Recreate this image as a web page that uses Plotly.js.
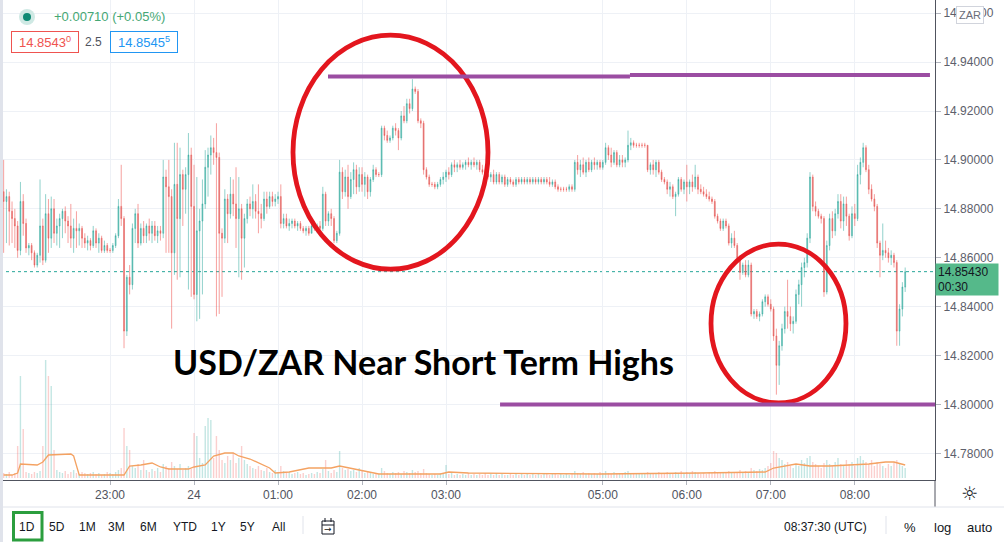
<!DOCTYPE html>
<html>
<head>
<meta charset="utf-8">
<script src="https://cdn.plot.ly/plotly-3.0.1.min.js"></script>
<style>
  html, body { margin: 0; padding: 0; background: #ffffff; }
  #chart { width: 1004px; height: 542px; }
</style>
</head>
<body>
<div id="chart"></div>
<script>
// USD/ZAR, 2-minute candles through the overnight session (22:44 - 08:37 UTC)

const barOpen = [
  14.887,14.883,14.885,14.879,14.876,14.873,14.863,14.883,14.874,14.864,
  14.865,14.862,14.857,14.861,14.873,14.859,14.878,14.868,14.880,14.870,
  14.873,14.876,14.879,14.875,14.873,14.868,14.872,14.871,14.872,14.868,
  14.866,14.867,14.865,14.871,14.866,14.868,14.863,14.865,14.863,14.863,
  14.865,14.869,14.881,14.876,14.830,14.852,14.849,14.872,14.878,14.866,
  14.872,14.869,14.873,14.870,14.873,14.869,14.871,14.870,14.893,14.889,
  14.885,14.862,14.890,14.876,14.894,14.888,14.894,14.902,14.881,14.845,
  14.871,14.875,14.882,14.897,14.902,14.905,14.903,14.901,14.870,14.868,
  14.884,14.878,14.886,14.882,14.876,14.880,14.868,14.876,14.882,14.880,
  14.883,14.879,14.878,14.876,14.884,14.881,14.885,14.883,14.884,14.885,
  14.874,14.876,14.873,14.874,14.875,14.873,14.874,14.872,14.871,14.872,
  14.870,14.873,14.872,14.873,14.872,14.886,14.875,14.878,14.876,14.867,
  14.870,14.895,14.887,14.893,14.885,14.892,14.896,14.889,14.894,14.890,
  14.893,14.887,14.892,14.896,14.894,14.894,14.913,14.910,14.908,14.909,
  14.913,14.912,14.909,14.918,14.916,14.923,14.921,14.929,14.928,14.916,
  14.915,14.896,14.893,14.890,14.890,14.889,14.890,14.892,14.893,14.895,
  14.894,14.898,14.897,14.898,14.897,14.898,14.899,14.898,14.899,14.898,
  14.899,14.896,14.895,14.894,14.893,14.894,14.891,14.894,14.891,14.893,
  14.890,14.892,14.891,14.890,14.892,14.891,14.892,14.891,14.892,14.891,
  14.892,14.891,14.892,14.891,14.892,14.891,14.890,14.891,14.889,14.888,
  14.888,14.888,14.888,14.889,14.888,14.899,14.896,14.898,14.895,14.899,
  14.896,14.899,14.898,14.899,14.897,14.899,14.905,14.902,14.899,14.903,
  14.898,14.900,14.899,14.900,14.906,14.907,14.906,14.906,14.906,14.906,
  14.906,14.896,14.898,14.896,14.899,14.895,14.892,14.891,14.888,14.889,
  14.885,14.886,14.892,14.888,14.891,14.889,14.891,14.889,14.893,14.888,
  14.887,14.886,14.885,14.884,14.883,14.877,14.875,14.872,14.875,14.873,
  14.866,14.868,14.865,14.860,14.854,14.857,14.853,14.857,14.837,14.838,
  14.836,14.837,14.842,14.844,14.841,14.839,14.828,14.816,14.824,14.831,
  14.838,14.836,14.833,14.834,14.845,14.849,14.856,14.858,14.868,14.893,
  14.881,14.879,14.877,14.876,14.846,14.865,14.876,14.871,14.878,14.883,
  14.875,14.882,14.877,14.869,14.878,14.876,14.894,14.899,14.905,14.896,
  14.888,14.884,14.881,14.866,14.861,14.863,14.862,14.860,14.861,14.858,
  14.830,14.839,14.848
];

const barHigh = [
  14.900,14.888,14.887,14.883,14.880,14.875,14.891,14.886,14.876,14.866,
  14.866,14.863,14.862,14.892,14.876,14.886,14.884,14.885,14.884,14.876,
  14.878,14.880,14.881,14.877,14.882,14.876,14.879,14.874,14.873,14.870,
  14.869,14.868,14.873,14.872,14.870,14.869,14.867,14.866,14.864,14.866,
  14.870,14.884,14.898,14.877,14.853,14.857,14.874,14.880,14.882,14.874,
  14.875,14.874,14.876,14.875,14.875,14.873,14.873,14.900,14.896,14.900,
  14.888,14.907,14.907,14.905,14.896,14.897,14.911,14.905,14.898,14.893,
  14.880,14.892,14.904,14.905,14.910,14.909,14.915,14.903,14.872,14.888,
  14.886,14.893,14.892,14.897,14.893,14.882,14.878,14.884,14.885,14.890,
  14.886,14.890,14.882,14.887,14.887,14.887,14.887,14.886,14.887,14.890,
  14.878,14.878,14.876,14.876,14.876,14.875,14.875,14.873,14.873,14.873,
  14.874,14.875,14.874,14.875,14.889,14.887,14.879,14.880,14.877,14.871,
  14.900,14.897,14.896,14.898,14.895,14.899,14.898,14.897,14.897,14.895,
  14.894,14.893,14.898,14.897,14.895,14.914,14.914,14.912,14.910,14.914,
  14.915,14.913,14.920,14.922,14.925,14.925,14.933,14.930,14.929,14.917,
  14.916,14.897,14.894,14.891,14.891,14.891,14.893,14.895,14.896,14.897,
  14.899,14.900,14.899,14.900,14.899,14.900,14.901,14.900,14.901,14.900,
  14.900,14.898,14.896,14.895,14.895,14.896,14.895,14.895,14.894,14.894,
  14.893,14.893,14.892,14.893,14.893,14.893,14.893,14.893,14.893,14.893,
  14.893,14.893,14.893,14.893,14.893,14.893,14.892,14.892,14.890,14.889,
  14.889,14.889,14.890,14.890,14.900,14.902,14.900,14.901,14.900,14.901,
  14.900,14.901,14.900,14.900,14.900,14.907,14.906,14.905,14.904,14.904,
  14.902,14.902,14.901,14.912,14.909,14.908,14.907,14.907,14.907,14.907,
  14.906,14.899,14.900,14.900,14.900,14.896,14.893,14.892,14.891,14.890,
  14.887,14.893,14.893,14.892,14.898,14.892,14.894,14.898,14.894,14.890,
  14.889,14.888,14.887,14.885,14.884,14.878,14.876,14.876,14.876,14.874,
  14.870,14.871,14.866,14.861,14.858,14.859,14.859,14.858,14.839,14.839,
  14.838,14.843,14.845,14.845,14.843,14.840,14.831,14.826,14.833,14.840,
  14.851,14.840,14.836,14.847,14.851,14.858,14.860,14.870,14.895,14.894,
  14.883,14.880,14.878,14.877,14.867,14.878,14.879,14.880,14.886,14.886,
  14.885,14.885,14.878,14.881,14.882,14.898,14.901,14.907,14.906,14.898,
  14.890,14.886,14.882,14.867,14.874,14.867,14.864,14.863,14.862,14.859,
  14.841,14.850,14.856
];

const barLow = [
  14.862,14.866,14.865,14.866,14.864,14.860,14.861,14.869,14.862,14.861,
  14.859,14.856,14.856,14.858,14.857,14.858,14.862,14.864,14.866,14.865,
  14.864,14.868,14.870,14.866,14.864,14.862,14.864,14.865,14.864,14.864,
  14.863,14.863,14.864,14.864,14.862,14.862,14.862,14.862,14.862,14.862,
  14.864,14.868,14.873,14.823,14.828,14.845,14.847,14.866,14.864,14.865,
  14.866,14.866,14.867,14.866,14.867,14.866,14.867,14.868,14.862,14.862,
  14.831,14.853,14.851,14.852,14.873,14.878,14.847,14.844,14.843,14.834,
  14.835,14.845,14.880,14.885,14.894,14.898,14.836,14.837,14.844,14.866,
  14.866,14.876,14.877,14.864,14.852,14.851,14.856,14.874,14.877,14.876,
  14.876,14.870,14.872,14.875,14.878,14.880,14.881,14.881,14.882,14.872,
  14.872,14.872,14.871,14.872,14.872,14.871,14.871,14.870,14.869,14.869,
  14.870,14.871,14.870,14.871,14.871,14.873,14.873,14.873,14.866,14.866,
  14.869,14.884,14.885,14.880,14.884,14.886,14.886,14.887,14.887,14.885,
  14.884,14.885,14.891,14.893,14.893,14.893,14.908,14.907,14.907,14.908,
  14.910,14.904,14.908,14.915,14.915,14.919,14.920,14.927,14.915,14.913,
  14.894,14.892,14.889,14.889,14.888,14.888,14.889,14.890,14.891,14.892,
  14.893,14.895,14.895,14.896,14.896,14.896,14.897,14.896,14.897,14.896,
  14.895,14.894,14.893,14.892,14.891,14.890,14.890,14.890,14.890,14.889,
  14.889,14.890,14.889,14.889,14.890,14.890,14.890,14.890,14.890,14.890,
  14.890,14.890,14.890,14.890,14.890,14.889,14.889,14.888,14.887,14.887,
  14.887,14.887,14.887,14.887,14.887,14.894,14.893,14.894,14.893,14.895,
  14.895,14.896,14.896,14.896,14.896,14.898,14.900,14.897,14.898,14.897,
  14.897,14.897,14.897,14.899,14.904,14.905,14.905,14.905,14.905,14.905,
  14.895,14.894,14.894,14.893,14.894,14.891,14.890,14.886,14.885,14.884,
  14.877,14.885,14.887,14.886,14.883,14.886,14.887,14.888,14.886,14.886,
  14.885,14.884,14.883,14.882,14.876,14.874,14.871,14.871,14.872,14.865,
  14.864,14.864,14.858,14.851,14.853,14.852,14.852,14.836,14.835,14.835,
  14.834,14.836,14.840,14.840,14.838,14.826,14.804,14.808,14.822,14.829,
  14.831,14.830,14.829,14.833,14.841,14.840,14.852,14.856,14.866,14.879,
  14.877,14.876,14.874,14.844,14.845,14.863,14.868,14.869,14.876,14.872,
  14.871,14.873,14.867,14.868,14.873,14.875,14.890,14.897,14.895,14.886,
  14.883,14.879,14.864,14.852,14.859,14.860,14.858,14.857,14.856,14.824,
  14.824,14.836,14.846
];

const barClose = [
  14.883,14.885,14.879,14.876,14.873,14.863,14.883,14.874,14.864,14.865,
  14.862,14.857,14.861,14.873,14.859,14.878,14.868,14.880,14.870,14.873,
  14.876,14.879,14.875,14.873,14.868,14.872,14.871,14.872,14.868,14.866,
  14.867,14.865,14.871,14.866,14.868,14.863,14.865,14.863,14.863,14.865,
  14.869,14.881,14.876,14.830,14.852,14.849,14.872,14.878,14.866,14.872,
  14.869,14.873,14.870,14.873,14.869,14.871,14.870,14.893,14.889,14.885,
  14.862,14.890,14.876,14.894,14.888,14.894,14.902,14.881,14.845,14.871,
  14.875,14.882,14.897,14.902,14.905,14.903,14.901,14.870,14.868,14.884,
  14.878,14.886,14.882,14.876,14.880,14.868,14.876,14.882,14.880,14.883,
  14.879,14.878,14.876,14.884,14.881,14.885,14.883,14.884,14.885,14.874,
  14.876,14.873,14.874,14.875,14.873,14.874,14.872,14.871,14.872,14.870,
  14.873,14.872,14.873,14.872,14.886,14.875,14.878,14.876,14.867,14.870,
  14.895,14.887,14.893,14.885,14.892,14.896,14.889,14.894,14.890,14.893,
  14.887,14.892,14.896,14.894,14.894,14.913,14.910,14.908,14.909,14.913,
  14.912,14.909,14.918,14.916,14.923,14.921,14.929,14.928,14.916,14.915,
  14.896,14.893,14.890,14.890,14.889,14.890,14.892,14.893,14.895,14.894,
  14.898,14.897,14.898,14.897,14.898,14.899,14.898,14.899,14.898,14.899,
  14.896,14.895,14.894,14.893,14.894,14.891,14.894,14.891,14.893,14.890,
  14.892,14.891,14.890,14.892,14.891,14.892,14.891,14.892,14.891,14.892,
  14.891,14.892,14.891,14.892,14.891,14.890,14.891,14.889,14.888,14.888,
  14.888,14.888,14.889,14.888,14.899,14.896,14.898,14.895,14.899,14.896,
  14.899,14.898,14.899,14.897,14.899,14.905,14.902,14.899,14.903,14.898,
  14.900,14.899,14.900,14.906,14.907,14.906,14.906,14.906,14.906,14.906,
  14.896,14.898,14.896,14.899,14.895,14.892,14.891,14.888,14.889,14.885,
  14.886,14.892,14.888,14.891,14.889,14.891,14.889,14.893,14.888,14.887,
  14.886,14.885,14.884,14.883,14.877,14.875,14.872,14.875,14.873,14.866,
  14.868,14.865,14.860,14.854,14.857,14.853,14.857,14.837,14.838,14.836,
  14.837,14.842,14.844,14.841,14.839,14.828,14.816,14.824,14.831,14.838,
  14.836,14.833,14.834,14.845,14.849,14.856,14.858,14.868,14.893,14.881,
  14.879,14.877,14.876,14.846,14.865,14.876,14.871,14.878,14.883,14.875,
  14.882,14.877,14.869,14.878,14.876,14.894,14.899,14.905,14.896,14.888,
  14.884,14.881,14.866,14.861,14.863,14.862,14.860,14.861,14.858,14.830,
  14.839,14.848,14.8543
];

// tick volume per bar
const barVolume = [
  5,4,6,3,5,32,102,49,6,5,
  4,6,5,7,32,118,102,92,28,8,
  6,5,7,4,6,8,5,4,6,5,
  4,5,6,4,5,3,4,6,5,4,
  6,8,10,50,32,28,12,10,14,8,
  18,8,6,9,7,10,6,14,12,10,
  16,12,9,14,8,10,12,9,45,42,
  20,15,52,60,58,20,42,28,18,15,
  22,18,25,15,20,32,18,14,12,10,
  9,12,8,7,10,6,5,8,6,12,
  7,5,6,4,5,6,4,5,3,4,
  5,4,6,5,9,18,7,5,8,6,
  27,10,8,9,7,8,6,10,7,5,
  6,5,4,5,4,10,7,5,4,6,
  5,6,4,7,6,5,8,6,7,5,
  9,5,4,3,4,3,5,4,13,4,
  5,3,4,3,4,3,5,3,4,3,
  4,3,5,3,4,3,5,3,4,3,
  3,4,3,5,3,4,3,4,3,5,
  3,4,3,4,5,3,4,5,3,4,
  3,4,3,5,7,5,4,6,4,5,
  4,5,4,6,5,7,5,4,6,5,
  5,4,6,7,5,4,5,4,5,4,
  6,5,4,5,6,5,4,6,5,4,
  6,5,7,5,6,5,7,6,5,4,
  5,4,6,5,7,6,5,6,5,7,
  5,6,5,8,6,7,6,10,8,7,
  9,8,10,12,15,27,25,20,18,14,
  16,12,10,14,12,18,15,20,22,16,
  14,12,10,15,18,14,12,16,20,14,
  12,18,14,16,12,20,22,18,16,14,
  18,12,16,14,12,10,14,12,16,18,
  14,12,10
];

// volume moving average, sampled at these bar numbers
const volMaBar   = [0,3,5,6,12,14,16,24,25,27,43,45,49,53,56,59,66,68,72,75,79,82,84,88,95,97,102,109,117,120,127,134,156,159,166,213,249,272,275,279,283,288,295,302,309,315,318,322];
const volMaValue = [3,3,5,14,13,16,23,24,22,3,3,12,13,15,11,9,9,11,13,22,25,25,22,19,10,5,6,10,10,12,8,4,4,6,5,4,5,6,10,12,14,12,12,13,14,16,16,13];

// session-scale time axis: minutes from 23:00 with the quiet 04:00 stretch compressed
const timeTickSlot  = [0, 60, 120, 180, 240, 352, 412, 472, 532];
const timeTickLabel = ['23:00', '24', '01:00', '02:00', '03:00', '05:00', '06:00', '07:00', '08:00'];
const firstBarSlot = -76;
const barStep = 2;

const askPrice = 14.85455;
const dayChangeText = '+0.00710 (+0.05%)';
const barCountdown = '00:30';
const clockText = '08:37:30 (UTC)';
const rangeButtons = ['1D', '5D', '1M', '3M', '6M', 'YTD', '1Y', '5Y', 'All'];
const scaleButtons = ['%', 'log', 'auto'];

// ---------------------------------------------------------------------------
const slotOf = k => firstBarSlot + barStep * k;
const barSlot = barClose.map((_, k) => slotOf(k));
const lastClose = barClose[barClose.length - 1];
const spreadPips = (askPrice - lastClose) * 1e4;

const UP = 'rgba(38,166,154,', DOWN = 'rgba(239,83,80,';
const volColors = barClose.map((c, k) => (c >= barOpen[k] ? UP : DOWN) + '0.28)');

// plot-area pixel helpers for overlay placement (plot area is 935 x 480)
const W = 935, H = 480;
const px = v => v / W;
const py = v => (H - v) / H;

const fmtSup = v => { const s = v.toFixed(5); return s.slice(0, -1) + '<sup>' + s.slice(-1) + '</sup>'; };

const uiFont = 'Liberation Sans, Arial, sans-serif';

const traces = [
  {
    type: 'bar', x: barSlot, y: barVolume, yaxis: 'y2',
    marker: { color: volColors, line: { width: 0 } },
    width: 1.0, hoverinfo: 'skip', showlegend: false
  },
  {
    type: 'scatter', mode: 'lines', yaxis: 'y2',
    x: volMaBar.map(slotOf), y: volMaValue,
    line: { color: '#f4a262', width: 1.3 }, hoverinfo: 'skip', showlegend: false
  },
  {
    type: 'candlestick', x: barSlot,
    open: barOpen, high: barHigh, low: barLow, close: barClose,
    increasing: { line: { color: UP + '0.5)', width: 1 }, fillcolor: UP + '0.6)' },
    decreasing: { line: { color: DOWN + '0.55)', width: 1 }, fillcolor: 'rgba(190,80,80,0.7)' },
    whiskerwidth: 0, hoverinfo: 'skip', showlegend: false
  }
];

const shapes = [
  // last price guide
  { type: 'line', xref: 'paper', x0: 0, x1: 1, yref: 'y', y0: lastClose, y1: lastClose,
    line: { color: '#26a69a', width: 1, dash: 'dot' }, layer: 'below' },
  // drawn ellipses
  { type: 'circle', xref: 'x', yref: 'y', x0: 130.7, x1: 270, y0: 14.8553, y1: 14.9510,
    line: { color: '#e3161e', width: 4.8 } },
  { type: 'circle', xref: 'x', yref: 'y', x0: 429.3, x1: 525.7, y0: 14.8006, y1: 14.8656,
    line: { color: '#e3161e', width: 4.8 } },
  // drawn resistance / support levels
  { type: 'line', xref: 'x', yref: 'y', x0: 155.7, x1: 371.4, y0: 14.9341, y1: 14.9341,
    line: { color: '#9b4da2', width: 4 } },
  { type: 'line', xref: 'x', yref: 'y', x0: 371.4, x1: 585.7, y0: 14.9347, y1: 14.9347,
    line: { color: '#9b4da2', width: 4 } },
  { type: 'line', xref: 'x', yref: 'y', x0: 278.6, x1: 592, y0: 14.8000, y1: 14.8000,
    line: { color: '#9b4da2', width: 4 } },
  // left edge strip
  { type: 'rect', xref: 'paper', yref: 'paper', x0: 0, x1: px(3), y0: py(542), y1: 1,
    fillcolor: '#e0e3eb', line: { width: 0 } },
  // axis corner divider and footer separator
  { type: 'line', xref: 'paper', yref: 'paper', x0: 1, x1: 1, y0: py(507), y1: 0,
    line: { color: '#50535e', width: 1 } },
  { type: 'line', xref: 'paper', yref: 'paper', x0: px(3), x1: px(1004), y0: py(507), y1: py(507),
    line: { color: '#e0e3eb', width: 1 } },
  // legend status dot
  { type: 'circle', xref: 'paper', yref: 'paper', x0: px(19), x1: px(35), y0: py(25), y1: py(9),
    fillcolor: '#cfe9e4', line: { width: 0 } },
  { type: 'circle', xref: 'paper', yref: 'paper', x0: px(23), x1: px(31), y0: py(21), y1: py(13),
    fillcolor: '#0e8a74', line: { width: 0 } },
  // footer: selected range frame and dividers
  { type: 'rect', xref: 'paper', yref: 'paper', x0: px(13.5), x1: px(42), y0: py(540), y1: py(512.5),
    line: { color: '#2b9e3e', width: 3 } },
  { type: 'line', xref: 'paper', yref: 'paper', x0: px(303), x1: px(303), y0: py(534), y1: py(516),
    line: { color: '#e0e3eb', width: 1 } },
  { type: 'line', xref: 'paper', yref: 'paper', x0: px(886), x1: px(886), y0: py(534), y1: py(516),
    line: { color: '#e0e3eb', width: 1 } },
  // date-range icon
  { type: 'rect', xref: 'paper', yref: 'paper', x0: px(322), x1: px(334), y0: py(534), y1: py(521),
    line: { color: '#131722', width: 1 } },
  { type: 'line', xref: 'paper', yref: 'paper', x0: px(322), x1: px(334), y0: py(525), y1: py(525),
    line: { color: '#131722', width: 1 } },
  { type: 'line', xref: 'paper', yref: 'paper', x0: px(325), x1: px(325), y0: py(522), y1: py(518),
    line: { color: '#131722', width: 1 } },
  { type: 'line', xref: 'paper', yref: 'paper', x0: px(331), x1: px(331), y0: py(522), y1: py(518),
    line: { color: '#131722', width: 1 } }
];

const ann = (text, x, y, extra) => Object.assign({
  text, xref: 'paper', yref: 'paper', x: px(x), y: py(y),
  xanchor: 'center', yanchor: 'middle', showarrow: false,
  font: { family: uiFont, size: 12, color: '#131722' }
}, extra || {});

const rangeX = [27, 57, 87, 117, 148, 185, 218, 247, 278];
const scaleX = [910, 942, 979];

const annotations = [
  ann('<b>USD/ZAR Near Short Term Highs</b>', 423, 361,
      { font: { family: 'Lato, Open Sans, sans-serif', size: 34, color: '#000000' } }),
  ann(dayChangeText, 52, 17, { xanchor: 'left', font: { family: uiFont, size: 13, color: '#45a774' } }),
  ann(fmtSup(lastClose), 44.5, 42, {
    font: { family: uiFont, size: 13, color: '#ef5350' },
    bordercolor: '#ef5350', borderwidth: 1, borderpad: 2, bgcolor: '#ffffff', width: 62, height: 16
  }),
  ann(spreadPips.toFixed(1), 93, 42, { font: { family: uiFont, size: 12, color: '#50535e' } }),
  ann(fmtSup(askPrice), 143.5, 42, {
    font: { family: uiFont, size: 13, color: '#2196f3' },
    bordercolor: '#2196f3', borderwidth: 1, borderpad: 2, bgcolor: '#ffffff', width: 62, height: 16
  }),
  ann('ZAR', 970, 15, {
    font: { family: uiFont, size: 11, color: '#6a6d78' },
    bgcolor: '#ffffff', bordercolor: '#d1d4dc', borderwidth: 1, borderpad: 2
  }),
  // last price tag on the price scale
  {
    text: lastClose.toFixed(5) + '<br>' + barCountdown, xref: 'paper', yref: 'y',
    x: 1, y: lastClose, xanchor: 'left', yanchor: 'top', yshift: 9, showarrow: false,
    align: 'left', width: 58, height: 27, borderpad: 2, bgcolor: '#55b98a',
    font: { family: uiFont, size: 12, color: '#131722' }
  },
  ann('\u263C', 969, 493, { font: { family: 'DejaVu Sans', size: 19, color: '#131722' } }),
  ann('\u2192', 328, 529, { font: { family: 'DejaVu Sans', size: 9, color: '#131722' } }),
  ann(clockText, 825, 527),
  ...rangeButtons.map((t, i) => ann(t, rangeX[i], 527)),
  ...scaleButtons.map((t, i) => ann(t, scaleX[i], 527, { font: { family: uiFont, size: 13, color: '#131722' } }))
];

const layout = {
  width: 1004, height: 542,
  margin: { l: 0, r: 69, t: 0, b: 62, pad: 0 },
  paper_bgcolor: '#ffffff', plot_bgcolor: '#ffffff',
  showlegend: false, hovermode: false, dragmode: false,
  boxgap: 0.55,
  xaxis: {
    type: 'linear', range: [-78.6, 589.3],
    tickmode: 'array', tickvals: timeTickSlot, ticktext: timeTickLabel,
    showgrid: true, gridcolor: '#eef1f6', gridwidth: 1, zeroline: false,
    showline: true, linecolor: '#50535e', linewidth: 1,
    ticks: 'outside', ticklen: 4, tickcolor: '#b2b5be',
    tickfont: { family: uiFont, size: 12, color: '#50535e' },
    rangeslider: { visible: false }, fixedrange: true
  },
  yaxis: {
    side: 'right', range: [14.7691, 14.9654],
    tick0: 14.78, dtick: 0.02, tickformat: '.5f',
    showgrid: true, gridcolor: '#eef1f6', gridwidth: 1, zeroline: false,
    showline: true, linecolor: '#50535e', linewidth: 1,
    ticks: 'outside', ticklen: 5, tickcolor: '#b2b5be',
    tickfont: { family: uiFont, size: 12, color: '#5d606b' },
    fixedrange: true
  },
  yaxis2: {
    overlaying: 'y', side: 'left', range: [-2, 478], visible: false, fixedrange: true
  },
  shapes, annotations
};

Plotly.newPlot('chart', traces, layout, { staticPlot: true, displayModeBar: false });
</script>
</body>
</html>
